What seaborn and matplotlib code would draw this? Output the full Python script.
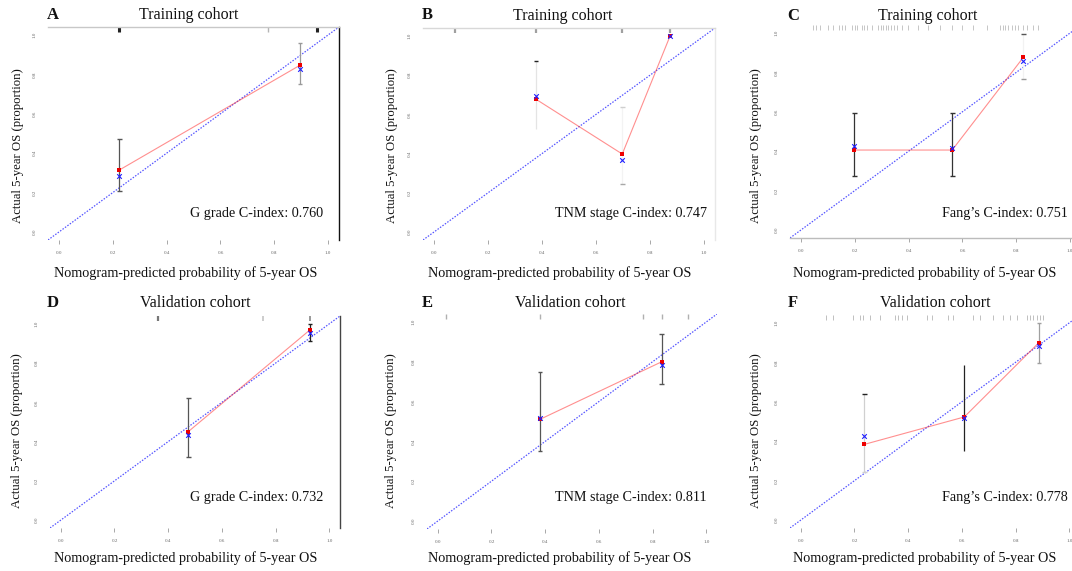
import matplotlib
matplotlib.use("Agg")
import matplotlib.pyplot as plt
import seaborn as sns
import pandas as pd

sns.set_theme(style="white")
plt.rcParams['font.family'] = ['Liberation Serif', 'DejaVu Serif']

# ---------------- data ----------------
tick_values = [0.0, 0.2, 0.4, 0.6, 0.8, 1.0]
tick_labels = ["0.0", "0.2", "0.4", "0.6", "0.8", "1.0"]

a_pred = [0.225, 0.895]
a_obs = [0.315, 0.846]
a_km = [0.286, 0.826]
a_lo = [0.210, 0.749]
a_hi = [0.471, 0.957]
a_rug = [0.222, 0.778, 0.957]

b_pred = [0.378, 0.697, 0.874]
b_obs = [0.677, 0.398, 1.000]
b_km = [0.694, 0.368, 1.000]
b_lo = [0.526, 0.247, 1.000]
b_hi = [0.870, 0.639, 1.000]
b_rug = [0.078, 0.378, 0.697, 0.874]

c_pred = [0.199, 0.562, 0.826]
c_obs = [0.406, 0.406, 0.876]
c_km = [0.426, 0.415, 0.859]
c_lo = [0.276, 0.276, 0.766]
c_hi = [0.595, 0.592, 0.993]
c_rug = [0.047, 0.057, 0.071, 0.100, 0.121, 0.143, 0.152, 0.164, 0.189, 0.201,
         0.210, 0.226, 0.235, 0.245, 0.263, 0.288, 0.297, 0.306, 0.316, 0.325,
         0.334, 0.346, 0.356, 0.374, 0.399, 0.436, 0.473, 0.517, 0.560, 0.597,
         0.640, 0.690, 0.739, 0.749, 0.758, 0.770, 0.783, 0.795, 0.807, 0.826,
         0.838, 0.863, 0.882]

d_pred = [0.475, 0.928]
d_obs = [0.451, 0.969]
d_km = [0.434, 0.955]
d_lo = [0.323, 0.913]
d_hi = [0.621, 0.998]
d_rug = [0.361, 0.754, 0.928]

e_pred = [0.381, 0.834]
e_obs = [0.511, 0.800]
e_km = [0.519, 0.784]
e_lo = [0.352, 0.687]
e_hi = [0.747, 0.938]
e_rug = [0.031, 0.381, 0.763, 0.834, 0.931]

f_pred = [0.237, 0.609, 0.887]
f_obs = [0.384, 0.523, 0.900]
f_km = [0.426, 0.520, 0.884]
f_lo = [0.242, 0.350, 0.798]
f_hi = [0.638, 0.786, 1.000]
f_rug = [0.094, 0.121, 0.196, 0.221, 0.233, 0.258, 0.295, 0.351, 0.363, 0.376,
         0.394, 0.469, 0.488, 0.550, 0.568, 0.643, 0.668, 0.717, 0.754, 0.779,
         0.804, 0.841, 0.854, 0.866, 0.878, 0.891, 0.903]

letters = ["A", "B", "C", "D", "E", "F"]
titles = ["Training cohort"] * 3 + ["Validation cohort"] * 3
cindex = ["G grade C-index: 0.760", "TNM stage C-index: 0.747", "Fang\u2019s C-index: 0.751",
          "G grade C-index: 0.732", "TNM stage C-index: 0.811", "Fang\u2019s C-index: 0.778"]
xlab = "Nomogram-predicted probability of 5-year OS"
ylab = "Actual 5-year OS (proportion)"

# ---------------- layout / style ----------------
W, H = 1072, 571
fig = plt.figure(figsize=(W / 100, H / 100), dpi=100)

def fx(x):
    return x / W

def fy(y):
    return 1 - y / H

# axes boxes in pixels: left, top, right, bottom
boxes = [(48, 27, 339, 240), (423, 28, 715, 240), (790, 25, 1081, 238),
         (50, 316, 340, 528), (427, 314, 717, 529), (790, 315, 1080, 528)]

panels = [
    dict(pred=a_pred, obs=a_obs, km=a_km, lo=a_lo, hi=a_hi, rug=a_rug,
         bar=['#555555', '#9a9a9a'], ctop=['#555555', '#9a9a9a'], cbot=['#555555', '#9a9a9a'],
         rugc=['#222222', '#b5b5b5', '#222222'], rugw=[2.2, 1.0, 2.2],
         spines=dict(top='#c8c8c8', right='#111111')),
    dict(pred=b_pred, obs=b_obs, km=b_km, lo=b_lo, hi=b_hi, rug=b_rug,
         bar=['#e4e4e4', '#f3f3f3', 'none'], ctop=['#222222', '#cfcfcf', 'none'],
         cbot=['none', '#a8a8a8', 'none'],
         rugc=['#a0a0a0'] * 4, rugw=[1.6] * 4,
         spines=dict(top='#d8d8d8', right='#e8e8e8')),
    dict(pred=c_pred, obs=c_obs, km=c_km, lo=c_lo, hi=c_hi, rug=c_rug,
         bar=['#333333', '#333333', '#f2f2f2'], ctop=['#333333', '#333333', '#555555'],
         cbot=['#333333', '#333333', '#999999'],
         rugc=['#bdbdbd'] * len(c_rug), rugw=[0.6] * len(c_rug),
         spines=dict(bottom='#bcbcbc')),
    dict(pred=d_pred, obs=d_obs, km=d_km, lo=d_lo, hi=d_hi, rug=d_rug,
         bar=['#555555', '#222222'], ctop=['#555555', '#222222'], cbot=['#555555', '#222222'],
         rugc=['#777777', '#c5c5c5', '#999999'], rugw=[1.6, 1.2, 1.4],
         spines=dict(right='#444444')),
    dict(pred=e_pred, obs=e_obs, km=e_km, lo=e_lo, hi=e_hi, rug=e_rug,
         bar=['#555555', '#555555'], ctop=['#555555', '#555555'], cbot=['#555555', '#555555'],
         rugc=['#b0b0b0'] * len(e_rug), rugw=[1.0] * len(e_rug),
         spines=dict()),
    dict(pred=f_pred, obs=f_obs, km=f_km, lo=f_lo, hi=f_hi, rug=f_rug,
         bar=['#d0d0d0', '#222222', '#a0a0a0'], ctop=['#222222', 'none', '#a0a0a0'],
         cbot=['#d0d0d0', 'none', '#a0a0a0'],
         rugc=['#c0c0c0'] * len(f_rug), rugw=[0.7] * len(f_rug),
         spines=dict()),
]

title_pos = [(189, 15), (563, 16), (928, 16), (195, 303), (570, 303), (935, 303)]
letter_pos = [(53, 15), (427, 15), (793, 16), (53, 303), (427, 303), (793, 303)]
xlab_pos = [(186, 273), (560, 273), (925, 273), (186, 558), (560, 558), (925, 558)]
ylab_pos = [(18, 146), (392, 146), (756, 146), (17, 431), (391, 431), (756, 431)]
cidx_pos = [(323, 213), (707, 213), (1068, 213), (323, 498), (707, 498), (1068, 498)]

lim = (-0.04, 1.04)
cap = 0.009

for i, (bx, p) in enumerate(zip(boxes, panels)):
    l, t, r, b = bx
    ax = fig.add_axes([fx(l), fy(b), (r - l) / W, (b - t) / H])
    ax.set_facecolor('white')
    ax.set_xlim(lim)
    ax.set_ylim(lim)

    # ideal line
    ax.axline((0, 0), (1, 1), color='#2b2bff', lw=0.9, ls=(0, (1.2, 1.2)), alpha=0.8, zorder=1)

    df = pd.DataFrame(dict(pred=p['pred'], obs=p['obs'], km=p['km']))

    # error bars
    for xv, lo, hi, c, ct, cb in zip(p['pred'], p['lo'], p['hi'], p['bar'], p['ctop'], p['cbot']):
        if c != 'none':
            ax.vlines(xv, lo, hi, color=c, lw=0.9, zorder=2)
        if ct != 'none':
            ax.hlines(hi, xv - cap, xv + cap, color=ct, lw=1.0, zorder=2)
        if cb != 'none':
            ax.hlines(lo, xv - cap, xv + cap, color=cb, lw=1.0, zorder=2)

    # observed calibration line
    sns.lineplot(data=df, x='pred', y='obs', sort=False, estimator=None, color='#ff2020',
                 lw=0.8, alpha=0.5, ax=ax, zorder=3)
    sns.scatterplot(data=df, x='pred', y='obs', color='#ee0000', marker='s', s=6,
                    linewidth=0, ax=ax, zorder=4)
    sns.scatterplot(data=df, x='pred', y='km', color='#2020ff', marker='x', s=11,
                    linewidth=0.8, ax=ax, zorder=4)

    # rug along the top
    ax.vlines(p['rug'], 0.978, 0.998, transform=ax.get_xaxis_transform(),
              colors=p['rugc'], linewidths=p['rugw'], zorder=2)

    # spines
    for s in ['top', 'right', 'bottom', 'left']:
        ax.spines[s].set_visible(False)
    for s, c in p['spines'].items():
        ax.spines[s].set_visible(True)
        ax.spines[s].set_color(c)
        ax.spines[s].set_linewidth(1.0)

    # ticks
    ax.set_xticks(tick_values)
    ax.set_xticklabels(tick_labels)
    ax.set_yticks(tick_values)
    ax.set_yticklabels(tick_labels, rotation=90, va='center')
    ax.tick_params(axis='x', bottom=True, length=3, width=0.6, color='#9a9a9a',
                   labelsize=3.6, labelcolor='#666666', pad=5)
    ax.tick_params(axis='y', left=False, length=0, labelsize=3.6, labelcolor='#666666', pad=8)
    ax.set_xlabel('')
    ax.set_ylabel('')
    ax.grid(False)

    # texts
    fig.text(fx(title_pos[i][0]), fy(title_pos[i][1]), titles[i], ha='center', va='center',
             fontsize=11.5, color='#111111')
    fig.text(fx(letter_pos[i][0]), fy(letter_pos[i][1]), letters[i], ha='center', va='center',
             fontsize=12, fontweight='bold', color='#111111')
    fig.text(fx(xlab_pos[i][0]), fy(xlab_pos[i][1]), xlab, ha='center', va='center',
             fontsize=10.2, color='#111111')
    fig.text(fx(ylab_pos[i][0]), fy(ylab_pos[i][1]), ylab, ha='center', va='center',
             rotation=90, fontsize=9.2, color='#111111')
    fig.text(fx(cidx_pos[i][0]), fy(cidx_pos[i][1]), cindex[i], ha='right', va='center',
             fontsize=10.2, color='#111111')

fig.savefig("out.png", dpi=100, facecolor='white')
